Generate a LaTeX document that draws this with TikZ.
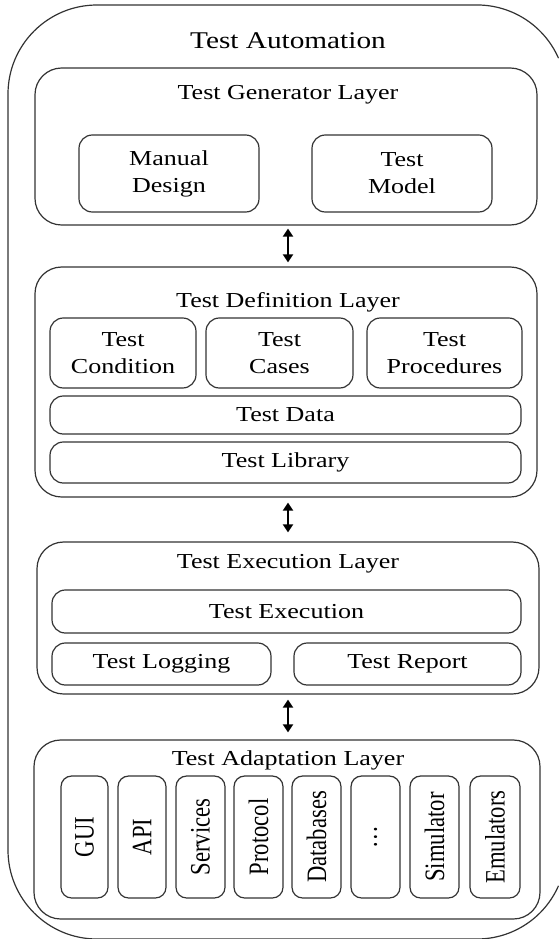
\documentclass[tikz,border=0pt]{standalone}
\usepackage{fontspec}
\usepackage{graphicx}
\setmainfont{Liberation Serif}[FakeStretch=1.22]
\newfontfamily\rotfont{Liberation Serif}
\usetikzlibrary{arrows.meta}

% vertical label for the adaptation columns
\newcommand\coltext[1]{\rotatebox{90}{\scalebox{1}[1.24]{\rotfont\fontsize{17}{20}\selectfont #1}}}

\begin{document}
\begin{tikzpicture}[
  x=0.75pt, y=-0.75pt,
  sz/.style 2 args={minimum width=#1*0.75pt, minimum height=#2*0.75pt},
  frame/.style={draw=black!80, line width=0.9pt, inner sep=0pt, rectangle},
  layer/.style={frame, rounded corners=20pt},
  ibox/.style={frame, rounded corners=10pt, align=center,
    font=\fontsize{16}{20.25}\selectfont},
  colbox/.style={frame, rounded corners=8pt, sz={#1}{122}},
  ttl/.style={anchor=base, inner sep=0pt, font=\fontsize{16}{20}\selectfont},
  bigttl/.style={anchor=base, inner sep=0pt, font=\fontsize{18}{22}\selectfont},
  outerline/.style={draw=black!80, line width=0.9pt},
  biarrow/.style={line width=1.5pt, {Triangle[length=6pt,width=7.5pt]}-{Triangle[length=6pt,width=7.5pt]}}
]
\useasboundingbox (0,0) rectangle (558,939);

% outer frame; its right side lies beyond the page, so only the
% visible part of the rounded outline is drawn
\draw[outerline] (558.5,58.2)
  arc[start angle=23.7, end angle=90, radius=66.75pt] -- (97,5)
  arc[start angle=90, end angle=180, radius=66.75pt] -- (8,850)
  arc[start angle=180, end angle=270, radius=66.75pt] -- (477,939)
  arc[start angle=270, end angle=336.3, radius=66.75pt];
\node[bigttl] (outerT) at (288,48) {Test Automation};

% generator layer
\node[layer, sz={502}{157}] (gen) at (286,146.5) {};
\node[ttl] (genT) at (288,99) {Test Generator Layer};
\node[ibox, sz={180}{77}] (manual) at (169,173.5) {Manual\\Design};
\node[ibox, sz={180}{77}] (model) at (402,173.5) {Test\\Model};

% definition layer
\node[layer, sz={502}{230}] (def) at (286,382) {};
\node[ttl] (defT) at (288,307) {Test Definition Layer};
\node[ibox, sz={146}{70}] (cond) at (123,353) {Test\\Condition};
\node[ibox, sz={147}{70}] (cases) at (279.5,353) {Test\\Cases};
\node[ibox, sz={155}{70}] (proc) at (444.5,353) {Test\\Procedures};
\node[ibox, sz={471}{38}] (data) at (285.5,415) {Test Data};
\node[ibox, sz={471}{41}] (lib) at (285.5,462.5) {Test Library};

% execution layer
\node[layer, sz={502}{152}] (exec) at (288,618) {};
\node[ttl] (execT) at (288,568) {Test Execution Layer};
\node[ibox, sz={469}{43}] (run) at (286.5,611.5) {Test Execution};
\node[ibox, sz={219}{42}] (logging) at (161.5,664) {Test Logging};
\node[ibox, sz={227}{42}] (report) at (407.5,664) {Test Report};

% adaptation layer
\node[layer, sz={506}{179}] (adapt) at (287,829.5) {};
\node[ttl] (adaptT) at (288,765) {Test Adaptation Layer};
\node[colbox=47] (gui) at (84.5,837) {\coltext{GUI}};
\node[colbox=48] (api) at (142,837) {\coltext{API}};
\node[colbox=49] (services) at (200.5,837) {\coltext{Services}};
\node[colbox=49] (protocol) at (258.5,837) {\coltext{Protocol}};
\node[colbox=49] (databases) at (316.5,837) {\coltext{Databases}};
\node[colbox=49] (more) at (375.5,837) {\coltext{\dots}};
\node[colbox=49] (simulator) at (434.5,837) {\coltext{Simulator}};
\node[colbox=50] (emulators) at (495,837) {\coltext{Emulators}};

% links between the layers
\draw[biarrow, shorten <=2.25pt, shorten >=3pt] (genT |- gen.south) -- (genT |- def.north);
\draw[biarrow, shorten <=3.75pt, shorten >=6.75pt] (defT |- def.south) -- (defT |- exec.north);
\draw[biarrow, shorten <=3.75pt, shorten >=5.25pt] (execT |- exec.south) -- (execT |- adapt.north);
\end{tikzpicture}
\end{document}
